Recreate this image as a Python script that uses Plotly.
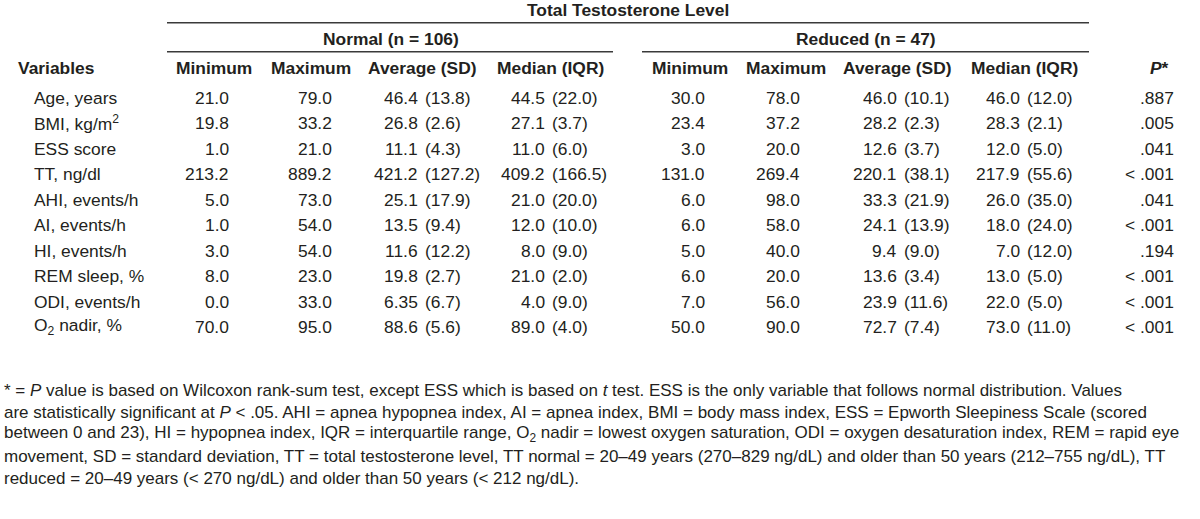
import plotly.graph_objects as go

variables = ["Age, years", "BMI, kg/m<sup>2</sup>", "ESS score", "TT, ng/dl", "AHI, events/h",
             "AI, events/h", "HI, events/h", "REM sleep, %", "ODI, events/h", "O<sub>2</sub> nadir, %"]
col_headers = ["Minimum", "Maximum", "Average (SD)", "Median (IQR)"]

normal_min = ["21.0", "19.8", "1.0", "213.2", "5.0", "1.0", "3.0", "8.0", "0.0", "70.0"]
normal_max = ["79.0", "33.2", "21.0", "889.2", "73.0", "54.0", "54.0", "23.0", "33.0", "95.0"]
normal_avg = ["46.4 (13.8)", "26.8 (2.6)", "11.1 (4.3)", "421.2 (127.2)", "25.1 (17.9)",
              "13.5 (9.4)", "11.6 (12.2)", "19.8 (2.7)", "6.35 (6.7)", "88.6 (5.6)"]
normal_med = ["44.5 (22.0)", "27.1 (3.7)", "11.0 (6.0)", "409.2 (166.5)", "21.0 (20.0)",
              "12.0 (10.0)", "8.0 (9.0)", "21.0 (2.0)", "4.0 (9.0)", "89.0 (4.0)"]

reduced_min = ["30.0", "23.4", "3.0", "131.0", "6.0", "6.0", "5.0", "6.0", "7.0", "50.0"]
reduced_max = ["78.0", "37.2", "20.0", "269.4", "98.0", "58.0", "40.0", "20.0", "56.0", "90.0"]
reduced_avg = ["46.0 (10.1)", "28.2 (2.3)", "12.6 (3.7)", "220.1 (38.1)", "33.3 (21.9)",
               "24.1 (13.9)", "9.4 (9.0)", "13.6 (3.4)", "23.9 (11.6)", "72.7 (7.4)"]
reduced_med = ["46.0 (12.0)", "28.3 (2.1)", "12.0 (5.0)", "217.9 (55.6)", "26.0 (35.0)",
               "18.0 (24.0)", "7.0 (12.0)", "13.0 (5.0)", "22.0 (5.0)", "73.0 (11.0)"]

p_values = [".887", ".005", ".041", "&lt; .001", ".041", "&lt; .001", ".194", "&lt; .001", "&lt; .001", "&lt; .001"]

footnote = [
    "* = <i>P</i> value is based on Wilcoxon rank-sum test, except ESS which is based on <i>t</i> test. "
    "ESS is the only variable that follows normal distribution. Values",
    "are statistically significant at <i>P</i> &lt; .05. AHI = apnea hypopnea index, AI = apnea index, "
    "BMI = body mass index, ESS = Epworth Sleepiness Scale (scored",
    "between 0 and 23), HI = hypopnea index, IQR = interquartile range, O<sub>2</sub> nadir = lowest oxygen "
    "saturation, ODI = oxygen desaturation index, REM = rapid eye",
    "movement, SD = standard deviation, TT = total testosterone level, TT normal = 20\u201349 years "
    "(270\u2013829 ng/dL) and older than 50 years (212\u2013755 ng/dL), TT",
    "reduced = 20\u201349 years (&lt; 270 ng/dL) and older than 50 years (&lt; 212 ng/dL).",
]

FONT = "Liberation Sans, Arial, sans-serif"
INK = "#231f20"
ROW_PX = 25.44          # pixel height of one table row
TOP_PX = 98             # pixel position of first data row


def ypix(p):
    # convert a pixel offset from the top into row units
    return (p - TOP_PX) / ROW_PX


fig = go.Figure()
annotations = []


def add_text(x, y, text, anchor="left", size=17.4):
    annotations.append(dict(x=x, y=y, xref="x", yref="y", text=text, showarrow=False,
                            xanchor=anchor, yanchor="middle", borderpad=0,
                            font=dict(family=FONT, size=size, color=INK)))


rows = list(range(len(variables)))

# row labels
for i, v in enumerate(variables):
    add_text(33, i, v)


def plain_col(values, right):
    for i, v in enumerate(values):
        add_text(right, i, v, anchor="right")


def split_col(values, split):
    for i, v in enumerate(values):
        first, second = v.split(" ", 1)
        add_text(split, i, first, anchor="right")
        add_text(split + 4.8, i, second, anchor="left")


plain_col(normal_min, 230)
plain_col(normal_max, 333)
split_col(normal_avg, 419)
split_col(normal_med, 546)
plain_col(reduced_min, 706)
plain_col(reduced_max, 801)
split_col(reduced_avg, 898)
split_col(reduced_med, 1021)
plain_col(p_values, 1175)

# headers
hy = ypix(68)
add_text(17, hy, "<b>Variables</b>")
for h, cx in zip(col_headers, [214, 311, 422, 550]):
    add_text(cx, hy, "<b>" + h + "</b>", anchor="center")
for h, cx in zip(col_headers, [690, 786, 897, 1024]):
    add_text(cx, hy, "<b>" + h + "</b>", anchor="center")
add_text(1159, hy, "<b><i>P</i>*</b>", anchor="center")

add_text(391, ypix(39), "<b>Normal (n = 106)</b>", anchor="center")
add_text(866, ypix(39), "<b>Reduced (n = 47)</b>", anchor="center")
add_text(628, ypix(10), "<b>Total Testosterone Level</b>", anchor="center")

for k, line in enumerate(footnote):
    add_text(3, ypix(390 + 22 * k), line, size=17)

shapes = [
    dict(type="line", xref="x", yref="y", x0=167, x1=1089, y0=ypix(22.7), y1=ypix(22.7),
         line=dict(color="#3a3a3a", width=1.6)),
    dict(type="line", xref="x", yref="y", x0=167, x1=613, y0=ypix(51.7), y1=ypix(51.7),
         line=dict(color="#3a3a3a", width=1.6)),
    dict(type="line", xref="x", yref="y", x0=642, x1=1089, y0=ypix(51.7), y1=ypix(51.7),
         line=dict(color="#3a3a3a", width=1.6)),
]

# invisible trace so the axes carry the table rows
fig.add_trace(go.Scatter(x=[0] * len(rows), y=rows, mode="markers",
                         marker=dict(opacity=0), hoverinfo="skip", showlegend=False))

fig.update_layout(
    width=1200, height=519,
    margin=dict(l=0, r=0, t=0, b=0),
    paper_bgcolor="white", plot_bgcolor="white",
    xaxis=dict(range=[0, 1200], visible=False, fixedrange=True),
    yaxis=dict(range=[ypix(519), ypix(0)], visible=False, fixedrange=True),
    annotations=annotations,
    shapes=shapes,
    showlegend=False,
)

fig.write_html("out.html", config={"displayModeBar": False},
               post_script="document.body.style.margin='0';document.body.style.overflow='hidden';")
